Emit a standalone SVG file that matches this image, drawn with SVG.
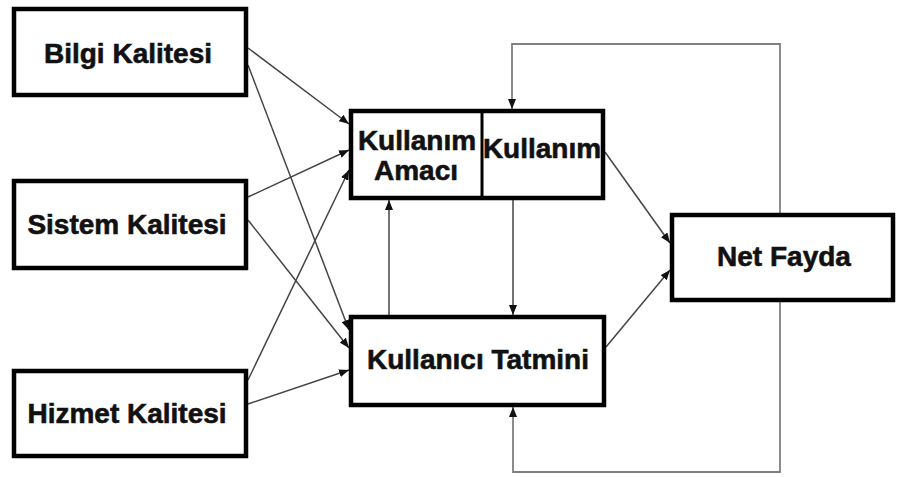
<svg xmlns="http://www.w3.org/2000/svg" width="901" height="477" viewBox="0 0 901 477">
<style>
.box{fill:#fff;stroke:#000;stroke-width:4.5}
.lbl{font-family:"Liberation Sans",Arial,sans-serif;font-weight:bold;font-size:28px;fill:#111;stroke:#111;stroke-width:0.6;text-anchor:middle}
.c{fill:none;stroke:#444;stroke-width:1.5}
.loop{fill:none;stroke:#808080;stroke-width:1.8}
</style>
<defs>
<marker id="ah" markerUnits="userSpaceOnUse" markerWidth="10" markerHeight="8" refX="10" refY="4" orient="auto">
<path d="M0,0 L10,4 L0,8 z" fill="#111"/>
</marker>
</defs>
<rect width="901" height="477" fill="#fff"/>
<g id="connectors">
<path class="c" d="M248,48 L349,124" marker-end="url(#ah)"/>
<path class="c" d="M248,65 L349,330" marker-end="url(#ah)"/>
<path class="c" d="M248,197 L349,150" marker-end="url(#ah)"/>
<path class="c" d="M248,220 L349,348" marker-end="url(#ah)"/>
<path class="c" d="M248,380 L349,170" marker-end="url(#ah)"/>
<path class="c" d="M248,404 L349,370" marker-end="url(#ah)"/>
<path class="c" d="M389,315 L389,200" marker-end="url(#ah)"/>
<path class="c" d="M513,200 L513,315" marker-end="url(#ah)"/>
<path class="c" d="M605,152 L670,243" marker-end="url(#ah)"/>
<path class="c" d="M606,347 L670,270" marker-end="url(#ah)"/>
<path class="loop" d="M780,213 L780,44 L512,44 L512,109" marker-end="url(#ah)"/>
<path class="loop" d="M780,302 L780,472 L513,472 L513,407" marker-end="url(#ah)"/>
</g>
<g id="bilgi">
<rect class="box" x="14" y="9" width="232" height="86"/>
<text class="lbl" x="128" y="63">Bilgi Kalitesi</text>
</g>
<g id="sistem">
<rect class="box" x="14" y="181" width="232" height="87"/>
<text class="lbl" x="127" y="234">Sistem Kalitesi</text>
</g>
<g id="hizmet">
<rect class="box" x="14" y="371" width="232" height="85"/>
<text class="lbl" x="127" y="423">Hizmet Kalitesi</text>
</g>
<g id="kullanim">
<rect class="box" x="351" y="111" width="252" height="87"/>
<line x1="482" y1="111" x2="482" y2="198" stroke="#000" stroke-width="3"/>
<text class="lbl" x="417" y="150">Kullanım</text>
<text class="lbl" x="416" y="180">Amacı</text>
<text class="lbl" x="542" y="158">Kullanım</text>
</g>
<g id="tatmin">
<rect class="box" x="351" y="317" width="253" height="88"/>
<text class="lbl" x="478" y="369">Kullanıcı Tatmini</text>
</g>
<g id="netfayda">
<rect class="box" x="672" y="215" width="221" height="85"/>
<text class="lbl" x="784" y="266">Net Fayda</text>
</g>
</svg>
